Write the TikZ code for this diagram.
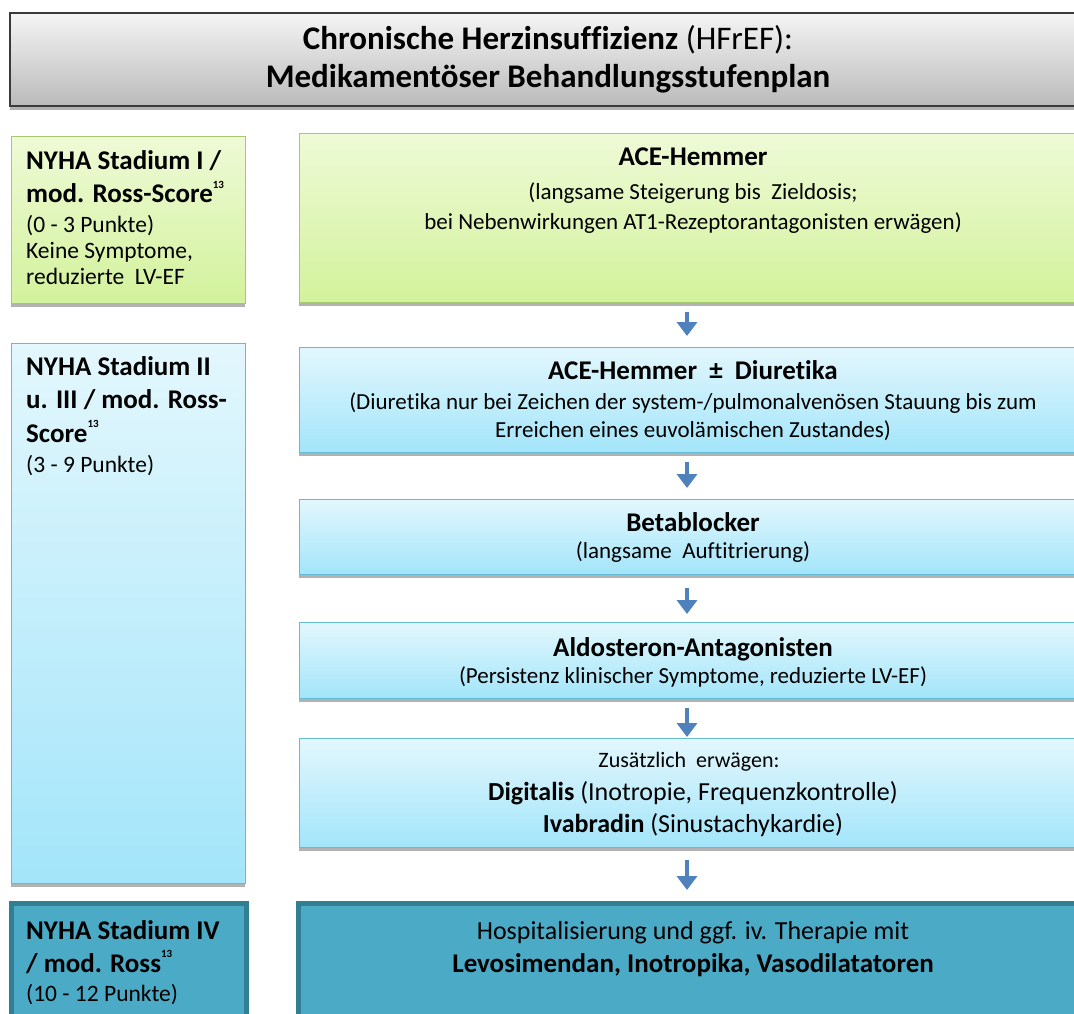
\documentclass[tikz,border=0pt]{standalone}
\usepackage{fontspec}
\setmainfont{Carlito}[Ligatures={NoCommon,NoRare,NoContextual},Contextuals={NoAlternate}]
\usetikzlibrary{shadows,arrows.meta}
\definecolor{grnTop}{HTML}{EEFAD6}
\definecolor{grnBot}{HTML}{D3F29C}
\definecolor{grnBd}{HTML}{A6C870}
\definecolor{bluTop}{HTML}{E3F7FD}
\definecolor{bluBot}{HTML}{A3E5FA}
\definecolor{bluBd}{HTML}{62BCD8}
\definecolor{tealF}{HTML}{4BAAC6}
\definecolor{tealBd}{HTML}{317F93}
\definecolor{ttlTop}{HTML}{F5F5F5}
\definecolor{ttlBot}{HTML}{BABABA}
\definecolor{ttlBd}{HTML}{3A3A3A}
\definecolor{arr}{HTML}{4F81BD}
\newcommand{\supn}{\raisebox{0.55em}{\fontsize{11}{11}\selectfont 13}}
\newcommand{\nti}{t\kern0pt i}
\begin{document}
\begin{tikzpicture}[x=1pt,y=-1pt,
  shadowed/.style={drop shadow={shadow xshift=0pt,shadow yshift=-4pt,fill=black,opacity=0.3}},
  boxbase/.style={rectangle,inner sep=0pt,outer sep=0pt,anchor=north west},
  ttlbox/.style={boxbase,draw=ttlBd,line width=1.5pt,top color=ttlTop,bottom color=ttlBot,shadowed},
  gbox/.style={boxbase,draw=grnBd,line width=1pt,top color=grnTop,bottom color=grnBot,shadowed},
  bbox/.style={boxbase,draw=bluBd,line width=1pt,top color=bluTop,bottom color=bluBot,shadowed},
  tbox/.style={boxbase,draw=tealBd,line width=5pt,fill=tealF},
  flow/.style={draw=arr,line width=4pt,-{Triangle[width=20pt,length=14pt]}},
  ttl/.style={font=\fontsize{33}{38}\selectfont,inner sep=0pt,anchor=base},
  lhd/.style={font=\fontsize{27}{32}\selectfont\bfseries,inner sep=0pt,anchor=base west},
  lbd/.style={font=\fontsize{23.5}{28}\selectfont,inner sep=0pt,anchor=base west},
  rhd/.style={font=\fontsize{27}{32}\selectfont\bfseries,inner sep=0pt,anchor=base},
  rbd/.style={font=\fontsize{23}{28}\selectfont,inner sep=0pt,anchor=base},
  rbg/.style={font=\fontsize{26}{30}\selectfont,inner sep=0pt,anchor=base},
  rsm/.style={font=\fontsize{22}{26}\selectfont,inner sep=0pt,anchor=base},
]
\useasboundingbox[fill=white] (0,0) rectangle (1074,1014);

% boxes
\node[ttlbox,minimum width=1090pt,minimum height=93pt] (title) at (10,13) {};
\node[gbox,minimum width=234pt,minimum height=166pt] (l1) at (11,137) {};
\node[gbox,minimum width=776pt,minimum height=168pt] (r1) at (299,134) {};
\node[bbox,minimum width=234pt,minimum height=540pt] (l2) at (11,343) {};
\node[bbox,minimum width=776pt,minimum height=105pt] (r2) at (299,347) {};
\node[bbox,minimum width=776pt,minimum height=75pt] (r3) at (299,499) {};
\node[bbox,minimum width=776pt,minimum height=76pt] (r4) at (299,622) {};
\node[bbox,minimum width=776pt,minimum height=109pt] (r5) at (299,738) {};
\node[tbox,minimum width=235pt,minimum height=130pt] (l4) at (11,903) {};
\node[tbox,minimum width=800pt,minimum height=130pt] (r6) at (298,903) {};

% title
\node[ttl] (t1) at (548,50) {\bfseries Chronische Herzinsuffizienz\mdseries{} (HFrEF):};
\node[ttl] (t2) at (548,88) {\bfseries Medikamentöser Behandlungsstufenplan};

% left column
\node[lhd] (l1a) at (26,170) {NYHA Stadium I /};
\node[lhd] (l1b) at (26,203) {mod. Ross-Score\supn};
\node[lbd] (l1c) at (26,233) {(0 - 3 Punkte)};
\node[lbd] (l1d) at (26,258) {Keine Symptome,};
\node[lbd] (l1e) at (26,284) {reduzierte \ LV-EF};

\node[lhd] (l2a) at (26,375) {NYHA Stadium II};
\node[lhd] (l2b) at (26,408) {u. III / mod. Ross-};
\node[lhd] (l2c) at (26,442) {Score\supn};
\node[lbd] (l2d) at (26,472) {(3 - 9 Punkte)};

\node[lhd] (l4a) at (26,939) {NYHA Stadium IV};
\node[lhd] (l4b) at (26,972) {/ mod. Ross\supn};
\node[lbd] (l4c) at (26,1001) {(10 - 12 Punkte)};

% right column
\node[rhd] (r1a) at (693,166) {ACE-Hemmer};
\node[rbd] (r1b) at (693,199) {(langsame Steigerung bis \ Zieldosis;};
\node[rbd] (r1c) at (693,229) {bei Nebenwirkungen AT1-Rezeptorantagonisten erwägen)};

\node[rhd] (r2a) at (693,379) {ACE-Hemmer \ ± \ Diure\nti ka};
\node[rbd] (r2b) at (693,409) {(Diure\nti ka nur bei Zeichen der system-/pulmonalvenösen Stauung bis zum};
\node[rbd] (r2c) at (693,437) {Erreichen eines euvolämischen Zustandes)};

\node[rhd] (r3a) at (693,531) {Betablocker};
\node[rbd] (r3b) at (693,558) {(langsame \ Auf\nti trierung)};

\node[rhd] (r4a) at (693,656) {Aldosteron-Antagonisten};
\node[rbd] (r4b) at (693,683) {(Persistenz klinischer Symptome, reduzierte LV-EF)};

\node[rsm] (r5a) at (689,767) {Zusätzlich \ erwägen:};
\node[rbg] (r5b) at (693,800) {\bfseries Digitalis\mdseries{} (Inotropie, Frequenzkontrolle)};
\node[rbg] (r5c) at (693,832) {\bfseries Ivabradin\mdseries{} (Sinustachykardie)};

\node[rbg] (r6a) at (693,939) {Hospitalisierung und ggf. iv. Therapie mit};
\node[rhd] (r6b) at (693,972) {Levosimendan, Inotropika, Vasodilatatoren};

% arrows
\draw[flow,shorten <=10pt,shorten >=11pt] (r1.south) -- (r2.north);
\draw[flow,shorten <=10pt,shorten >=11pt] (r2.south) -- (r3.north);
\draw[flow,shorten <=14pt,shorten >=8pt] (r3.south) -- (r4.north);
\draw[flow,shorten <=10pt,shorten >=1pt] (r4.south) -- (r5.north);
\draw[flow,shorten <=13pt,shorten >=13pt] (r5.south) -- (r5.south |- r6.north);
\end{tikzpicture}
\end{document}
